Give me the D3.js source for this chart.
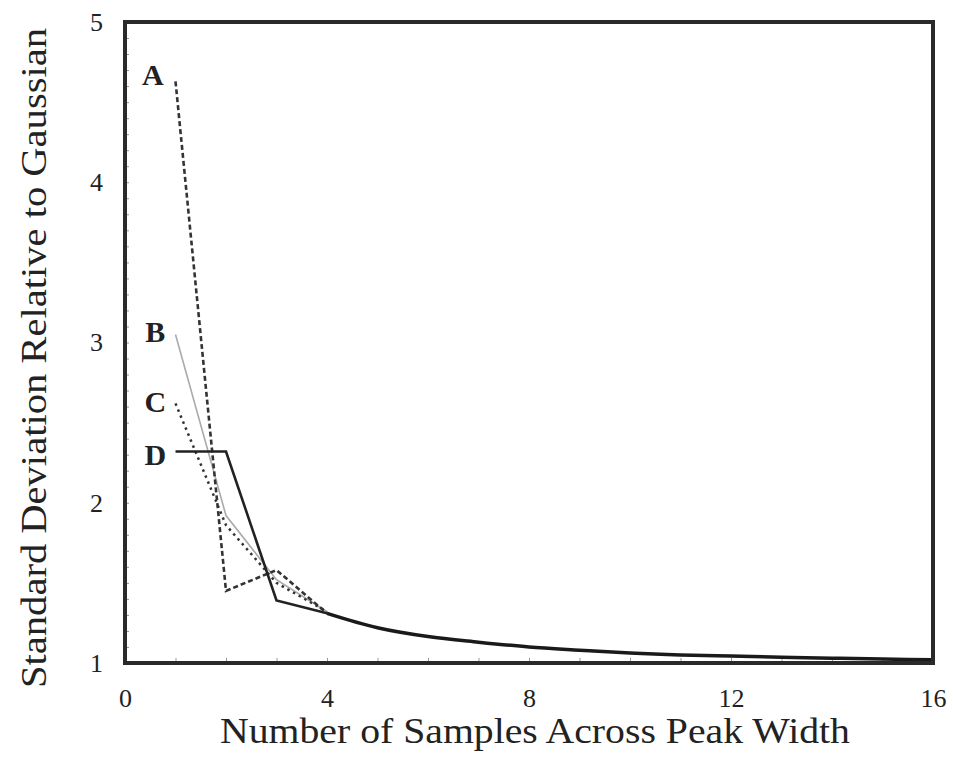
<!DOCTYPE html>
<html><head><meta charset="utf-8">
<script src="https://cdn.jsdelivr.net/npm/d3@7"></script>
<style>body{margin:0;background:#fff}svg{display:block}text{font-family:"Liberation Serif","Times New Roman",serif;fill:#222}</style>
</head><body>
<svg id="c" width="953" height="758"></svg>
<script>
const xTicks = [0, 4, 8, 12, 16];
const yTicks = [1, 2, 3, 4, 5];
const tailX = [4, 5, 6, 7, 8, 9, 10, 11, 12, 13, 14, 15, 16];
const tailY = [1.31, 1.22, 1.165, 1.13, 1.10, 1.08, 1.062, 1.05, 1.043, 1.036, 1.03, 1.025, 1.02];
const seriesA = [[1, 4.63], [2, 1.45], [3, 1.58], [4, 1.31]];
const seriesB = [[1, 3.05], [2, 1.92], [3, 1.52], [4, 1.32]];
const seriesC = [[1, 2.62], [2, 1.86], [3, 1.50], [4, 1.32]];
const seriesD = [[1, 2.32], [2, 2.32], [3, 1.39], [4, 1.31]];
const labels = [{t:"A", x:0.55, y:4.67}, {t:"B", x:0.6, y:3.07}, {t:"C", x:0.6, y:2.63}, {t:"D", x:0.6, y:2.30}];

const svg = d3.select("#c");
const L = 125, R = 933, T = 22, B = 663;
const x = d3.scaleLinear().domain([0, 16]).range([L, R]);
const y = d3.scaleLinear().domain([1, 5]).range([B, T]);
const line = d3.line().x(d => x(d[0])).y(d => y(d[1]));
const serif = '"Liberation Serif","Times New Roman",serif';

// minor inward ticks
const g = svg.append("g");
g.append("g").attr("transform", `translate(0,${B})`)
  .call(d3.axisTop(x).tickValues(d3.range(0, 16.01, 1)).tickSize(5).tickFormat(""))
  .call(s => { s.select(".domain").remove(); s.selectAll("line").attr("stroke", "#999").attr("stroke-width", 1); });
g.append("g").attr("transform", `translate(${L},0)`)
  .call(d3.axisRight(y).tickValues(d3.range(1, 5.001, 0.1)).tickSize(4).tickFormat(""))
  .call(s => { s.select(".domain").remove(); s.selectAll("line").attr("stroke", "#999").attr("stroke-width", 1); });

// tick labels via axes
svg.append("g").attr("transform", `translate(0,${B})`)
  .call(d3.axisBottom(x).tickValues(xTicks).tickSize(0).tickPadding(26).tickFormat(d3.format("d")))
  .call(s => { s.select(".domain").remove(); s.attr("font-family", serif); s.selectAll("text").attr("font-size", 26).attr("font-family", serif).attr("fill", "#222"); });
svg.append("g").attr("transform", `translate(${L},0)`)
  .call(d3.axisLeft(y).tickValues(yTicks).tickSize(0).tickPadding(22).tickFormat(d3.format("d")))
  .call(s => { s.select(".domain").remove(); s.attr("font-family", serif); s.selectAll("text").attr("font-size", 26).attr("font-family", serif).attr("fill", "#222"); });

// series
const tail = tailX.map((v, i) => [v, tailY[i]]);
svg.append("path").datum(seriesB).attr("d", line).attr("fill", "none").attr("stroke", "#aaa").attr("stroke-width", 1.6);
svg.append("path").datum(seriesC).attr("d", line).attr("fill", "none").attr("stroke", "#333").attr("stroke-width", 2.5).attr("stroke-dasharray", "2.5,4");
svg.append("path").datum(seriesA).attr("d", line).attr("fill", "none").attr("stroke", "#333").attr("stroke-width", 2.6).attr("stroke-dasharray", "5,3");
svg.append("path").datum(seriesD).attr("d", line).attr("fill", "none").attr("stroke", "#222").attr("stroke-width", 2.6);
svg.append("path").datum(tail).attr("d", line.curve(d3.curveMonotoneX)).attr("fill", "none").attr("stroke", "#1a1a1a").attr("stroke-width", 3.5);

// frame
svg.append("rect").attr("x", L).attr("y", T).attr("width", R - L).attr("height", B - T)
  .attr("fill", "none").attr("stroke", "#2a2a2a").attr("stroke-width", 4);

// series labels
svg.selectAll("text.lab").data(labels).enter().append("text").attr("class", "lab")
  .attr("x", d => x(d.x)).attr("y", d => y(d.y)).attr("text-anchor", "middle").attr("dy", "0.35em")
  .attr("font-size", 30).attr("font-weight", "bold").attr("font-family", serif).text(d => d.t);

// axis titles
svg.append("text").attr("x", 535).attr("y", 743).attr("text-anchor", "middle").attr("font-family", serif)
  .attr("font-size", 36).attr("textLength", 630).attr("lengthAdjust", "spacingAndGlyphs")
  .text("Number of Samples Across Peak Width");
svg.append("text").attr("transform", "translate(46,358) rotate(-90)").attr("text-anchor", "middle").attr("font-family", serif)
  .attr("font-size", 36).attr("textLength", 660).attr("lengthAdjust", "spacingAndGlyphs")
  .text("Standard Deviation Relative to Gaussian");
</script>
</body></html>
